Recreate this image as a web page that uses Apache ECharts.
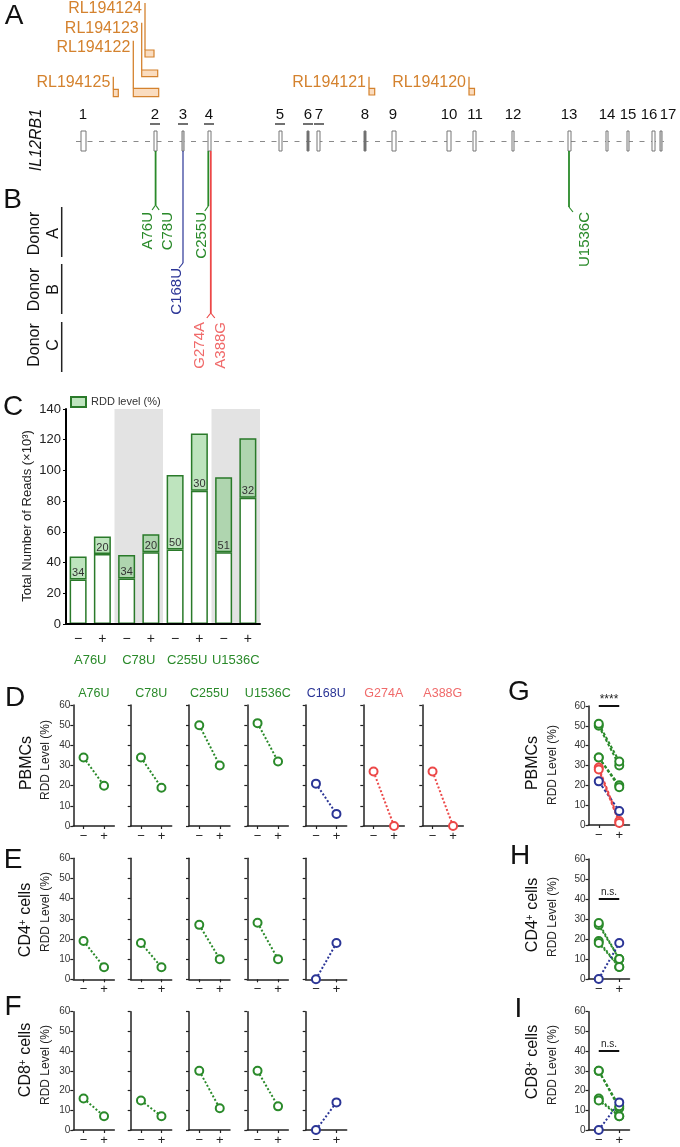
<!DOCTYPE html>
<html><head><meta charset="utf-8">
<script src="https://cdn.jsdelivr.net/npm/echarts@6/dist/echarts.min.js"></script>
<style>html,body{margin:0;padding:0;background:#fff}#c{width:680px;height:1147px}</style>
</head><body><div id="c"></div>
<script>
// ---------------- DATA ----------------
// Panel A: gene model (positions in diagram units along the gene axis)
const exonNames = ['1','2','3','4','5','6','7','8','9','10','11','12','13','14','15','16','17'];
const exonStart = [81,154,182,208,279,307,317,364,392,447,473,512,568,606,627,652,660];
const exonEnd   = [86,157,184,211,282,309,320,366,396,451,476,514,571,608,629,655,662];
const exonShade = [0,0,1,0,0,2,0,2,0,0,0,0,0,0,0,0,1];
const exonLabelX = [83,155,183,209,280,308,319,365,393,449,475,513,569,607,628,649,668];
const exonUnderlined = [0,1,1,1,1,1,1,0,0,0,0,0,0,0,0,0,0];
const intronSpan = [76, 664];

const probeNames = ['RL194124','RL194123','RL194122','RL194125','RL194121','RL194120'];
const probeLineX = [145,141.7,133.3,113.3,369,469];
const probeLineTop = [3,22.7,40.7,76.7,76.7,76.7];
const probeBoxRight = [154,157.7,158.7,118.3,374.7,474.5];
const probeBoxTop = [50,70,88.3,89.3,88.3,88.3];
const probeBoxBottom = [57,76.7,96.7,96.7,95,95];
const probeLabelY = [9,28.8,47.5,83,83,83];

// Panel B: edited sites and labels
const siteX = [155.6,183,208.3,210.8,569];
const siteEndY = [205,263,206,313,207];
const siteColor = ['g','b','g','r','g'];
const siteHooks = [[-3.5,3.5],[-4],[-3.5],[-4,4],[4]];
const mutNames = ['A76U','C78U','C255U','C168U','G274A','A388G','U1536C'];
const mutColor = ['g','g','g','b','r','r','g'];
const mutLabelX = [148,167.5,201.7,176.5,200,220.5,585];
const mutLabelTop = [212,212,212,268,322,322,212];
const donorNames = ['A','B','C'];
const donorTop = [207,264,322];
const donorBottom = [257,314,372];
const donorMid = [233.5,289.5,345];

// Panel C
const cGroups = ['A76U','C78U','C255U','U1536C'];
const cSigns = ['−','+','−','+','−','+','−','+'];
const cTotal = [44,57,45,58.5,97,124,95.5,121];
const cRdd = [34,20,34,20,50,30,51,32];
const cBand = [null,140,null,140];

// Panels D-F (per site)
const dSites = ['A76U','C78U','C255U','U1536C','C168U','G274A','A388G'];
const dColor = ['g','g','g','g','b','r','r'];
const pbmcMinus = [34,34,50,51,21,27,27];
const pbmcPlus  = [20,19,30,32,6,0,0];
const cd4Minus = [19,18,27,28,0];
const cd4Plus  = [6,6,10,10,18];
const cd8Minus = [16,15,30,30,0];
const cd8Plus  = [7,7,11,12,14];
// Panel G (pooled PBMCs)
const gMinus = [50,51,34,34,22,29,28];
const gPlus  = [30,32,20,19,7,2,1];
const gColor = ['g','g','g','g','b','r','r'];
const signs = ['−','+'];

// ---------------- STYLE ----------------
const FONT = '"Liberation Sans", Arial, Helvetica, sans-serif';
const GREEN = '#2a8a2a', GREEN_D = '#2a7a2a', BLUE = '#2b3596', RED = '#ec4848', RED_T = '#f06a6a', ORANGE = '#d4822e';
const col = {g: GREEN, b: BLUE, r: RED};
const tcol = {g: GREEN, b: BLUE, r: RED_T};
const AX = '#222';

const grid = [], xAxis = [], yAxis = [], series = [], graphic = [];

function txt(text, x, y, o) {
  o = o || {};
  const al = o.align || 'center', va = o.valign || 'middle';
  graphic.push({type:'text', x:x, y:y, rotation:o.rot || 0, silent:true, z:50,
    style:{text:text, fill:o.color || '#111', fontSize:o.size || 12, fontFamily:FONT,
      fontStyle:o.italic ? 'italic' : 'normal', align:al, verticalAlign:va,
      textAlign:al, textVerticalAlign:va, rich:o.rich}});
}

// ---------------- GENE DIAGRAM GRID (A, B) ----------------
grid.push({left:0, top:0, width:680, height:400});
xAxis.push({type:'value', gridIndex:0, min:0, max:680, show:false});
yAxis.push({type:'value', gridIndex:0, min:0, max:400, inverse:true, show:false});
const EXON_TOP = 131, EXON_BOTTOM = 151, INTRON_Y = 141.5, EXLAB_Y = 115;

series.push({type:'line', xAxisIndex:0, yAxisIndex:0, silent:true, z:1, symbol:'none',
  data:[[intronSpan[0], INTRON_Y],[intronSpan[1], INTRON_Y]],
  lineStyle:{color:'#8a8a8a', width:1, type:[5,6.5]}});

series.push({type:'custom', xAxisIndex:0, yAxisIndex:0, silent:true, z:3,
  data: exonStart.map(function(s){return [s, EXON_TOP];}),
  renderItem:function(p, api){
    const i = p.dataIndex;
    const a = api.coord([exonStart[i], EXON_TOP]), b = api.coord([exonEnd[i], EXON_BOTTOM]);
    const fills = ['#ffffff','#d8d8d8','#6a6a6a'];
    return {type:'rect', shape:{x:a[0], y:a[1], width:b[0]-a[0], height:b[1]-a[1]},
      style:{fill:fills[exonShade[i]], stroke:'#777', lineWidth:1}};
  }});

series.push({type:'custom', xAxisIndex:0, yAxisIndex:0, silent:true, z:3,
  data: exonLabelX.map(function(x){return [x, EXLAB_Y];}),
  renderItem:function(p, api){
    const i = p.dataIndex;
    const c = api.coord([exonLabelX[i], EXLAB_Y]);
    const ch = [{type:'text', x:c[0], y:c[1], style:{text:exonNames[i], fill:'#111', fontSize:15, fontFamily:FONT,
      align:'center', verticalAlign:'middle', textAlign:'center', textVerticalAlign:'middle'}}];
    if (exonUnderlined[i]) ch.push({type:'line', shape:{x1:c[0]-5, y1:c[1]+9, x2:c[0]+5, y2:c[1]+9}, style:{stroke:'#111', lineWidth:1.2}});
    return {type:'group', children:ch};
  }});

series.push({type:'custom', xAxisIndex:0, yAxisIndex:0, silent:true, z:3,
  data: probeLineX.map(function(x, i){return [x, probeLineTop[i]];}),
  renderItem:function(p, api){
    const i = p.dataIndex;
    const lt = api.coord([probeLineX[i], probeLineTop[i]]);
    const bt = api.coord([probeLineX[i], probeBoxTop[i]]);
    const br = api.coord([probeBoxRight[i], probeBoxBottom[i]]);
    const lab = api.coord([probeLineX[i], probeLabelY[i]]);
    return {type:'group', children:[
      {type:'line', shape:{x1:lt[0], y1:lt[1], x2:bt[0], y2:bt[1]}, style:{stroke:ORANGE, lineWidth:1.3}},
      {type:'rect', shape:{x:bt[0], y:bt[1], width:br[0]-bt[0], height:br[1]-bt[1]}, style:{fill:'#fadcbf', stroke:ORANGE, lineWidth:1.2}},
      {type:'text', x:lab[0]-3, y:lab[1], style:{text:probeNames[i], fill:ORANGE, fontSize:16, fontFamily:FONT,
        align:'right', verticalAlign:'middle', textAlign:'right', textVerticalAlign:'middle'}}
    ]};
  }});

// edited-site connectors
series.push({type:'custom', xAxisIndex:0, yAxisIndex:0, silent:true, z:4,
  data: siteX.map(function(x, i){return [x, siteEndY[i]];}),
  renderItem:function(p, api){
    const i = p.dataIndex;
    const top = api.coord([siteX[i], EXON_BOTTOM]), end = api.coord([siteX[i], siteEndY[i]]);
    const c = col[siteColor[i]];
    const w = siteColor[i] === 'b' ? 1.2 : 1.8;
    const ch = [{type:'line', shape:{x1:top[0], y1:top[1], x2:end[0], y2:end[1]}, style:{stroke:c, lineWidth:w}}];
    siteHooks[i].forEach(function(dx){
      const h = api.coord([siteX[i]+dx, siteEndY[i]+5]);
      ch.push({type:'line', shape:{x1:end[0], y1:end[1], x2:h[0], y2:h[1]}, style:{stroke:c, lineWidth:1.2}});
    });
    return {type:'group', children:ch};
  }});

// mutation labels
series.push({type:'custom', xAxisIndex:0, yAxisIndex:0, silent:true, z:4,
  data: mutLabelX.map(function(x, i){return [x, mutLabelTop[i]];}),
  renderItem:function(p, api){
    const i = p.dataIndex;
    const c = api.coord([mutLabelX[i], mutLabelTop[i]]);
    return {type:'text', x:c[0], y:c[1], rotation:Math.PI/2,
      style:{text:mutNames[i], fill:tcol[mutColor[i]], fontSize:15, fontFamily:FONT,
        align:'right', verticalAlign:'middle', textAlign:'right', textVerticalAlign:'middle'}};
  }});

// donor labels
series.push({type:'custom', xAxisIndex:0, yAxisIndex:0, silent:true, z:4,
  data: donorMid.map(function(y){return [40, y];}),
  renderItem:function(p, api){
    const i = p.dataIndex;
    const a = api.coord([61.7, donorTop[i]]), b = api.coord([61.7, donorBottom[i]]);
    const m = api.coord([44.5, donorMid[i]]);
    return {type:'group', children:[
      {type:'line', shape:{x1:a[0], y1:a[1], x2:b[0], y2:b[1]}, style:{stroke:'#222', lineWidth:1.5}},
      {type:'text', x:m[0], y:m[1], rotation:Math.PI/2, style:{text:'Donor\n' + donorNames[i], fill:'#111', fontSize:16,
        lineHeight:19, fontFamily:FONT, align:'center', verticalAlign:'middle', textAlign:'center', textVerticalAlign:'middle'}}
    ]};
  }});

txt('IL12RB1', 37, 140, {size:16, italic:true, rot:Math.PI/2});

// ---------------- PANEL C ----------------
const cCats = cSigns.map(function(s, i){return cGroups[Math.floor(i/2)] + '|' + s;});
grid.push({left:66, top:409, width:194, height:215});
const gC = grid.length - 1;
xAxis.push({type:'category', gridIndex:gC, data:cCats, z:10,
  axisLine:{lineStyle:{color:'#000', width:2}}, axisTick:{show:false},
  axisLabel:{interval:0, formatter:function(v){return v.split('|')[1];}, fontSize:14, color:AX, margin:8, fontFamily:FONT}});
const xC = xAxis.length - 1;
xAxis.push({type:'category', gridIndex:gC, data:cGroups, position:'bottom', z:10,
  axisLine:{show:false}, axisTick:{show:false},
  axisLabel:{interval:0, hideOverlap:false, fontSize:13, color:GREEN, margin:30, fontFamily:FONT}});
const xCg = xAxis.length - 1;
yAxis.push({type:'value', gridIndex:gC, min:0, max:140, interval:20, z:10,
  axisLine:{show:true, lineStyle:{color:'#000', width:2}}, axisTick:{show:true, length:3, lineStyle:{color:'#000'}},
  splitLine:{show:false}, axisLabel:{fontSize:13, color:AX, margin:5, fontFamily:FONT}});
const yC = yAxis.length - 1;
series.push({type:'bar', name:'band', xAxisIndex:xCg, yAxisIndex:yC, data:cBand, barWidth:'100%', silent:true, z:1,
  itemStyle:{color:'#e3e3e3'}});
series.push({type:'bar', name:'base', xAxisIndex:xC, yAxisIndex:yC, stack:'reads', barWidth:17, silent:true, z:3,
  data: cTotal.map(function(t, i){return +(t * (1 - cRdd[i]/100)).toFixed(2);}),
  itemStyle:{color:'#ffffff', borderColor:GREEN_D, borderWidth:1.5}});
series.push({type:'bar', name:'RDD level (%)', xAxisIndex:xC, yAxisIndex:yC, stack:'reads', barWidth:17, silent:true, z:3,
  data: cTotal.map(function(t, i){return +(t * cRdd[i]/100).toFixed(2);}),
  itemStyle:{color:'rgba(110,195,110,0.45)', borderColor:GREEN_D, borderWidth:1.5},
  label:{show:true, position:'insideBottom', distance:1, fontSize:11, color:'#333', fontFamily:FONT,
    formatter:function(p){return cRdd[p.dataIndex];}}});
txt('Total Number of Reads (×10³)', 27, 516, {size:13, rot:Math.PI/2, color:'#222'});

// ---------------- SMALL MULTIPLES ----------------
function smallPlot(left, top, height, showY, lines, mark) {
  grid.push({left:left, top:top, width:41, height:height});
  const gi = grid.length - 1;
  xAxis.push({type:'category', gridIndex:gi, data:signs, boundaryGap:true,
    axisLine:{lineStyle:{color:AX, width:1.5}},
    axisTick:{show:true, alignWithLabel:true, length:3, lineStyle:{color:AX, width:1.2}},
    axisLabel:{interval:0, fontSize:13, color:AX, margin:4, fontFamily:FONT}});
  yAxis.push({type:'value', gridIndex:gi, min:0, max:60, interval:10,
    axisLine:{show:true, lineStyle:{color:AX, width:1.5}},
    axisTick:{show:true, length:3, lineStyle:{color:AX, width:1.2}},
    splitLine:{show:false},
    axisLabel:{show:showY, fontSize:10, color:'#333', margin:3, fontFamily:FONT}});
  const xi = xAxis.length - 1, yi = yAxis.length - 1;
  lines.forEach(function(l, k){
    const s = {type:'line', xAxisIndex:xi, yAxisIndex:yi, silent:true, data:[l.minus, l.plus],
      symbol:'emptyCircle', symbolSize:8, z:5,
      lineStyle:{color:col[l.c], width:2, type:l.dash || 'dotted'},
      itemStyle:{color:col[l.c], borderColor:col[l.c], borderWidth:1.5}};
    if (k === 0 && mark) {
      s.markLine = {silent:true, symbol:'none', animation:false,
        lineStyle:{color:'#111', width:2, type:'solid'},
        label:{show:true, position:'insideMiddleTop', distance:mark.dist, formatter:mark.text, fontSize:mark.size, color:'#222', fontFamily:FONT},
        data:[[{coord:['−', mark.y]}, {coord:['+', mark.y]}]]};
    }
    series.push(s);
  });
}

const colLeft = [73.3,130.7,189,247.3,305.7,363.3,422.3];
const rowTop = [705, 858.3, 1011.7];
const rowH = [121, 121, 120];
const rowData = [[pbmcMinus, pbmcPlus], [cd4Minus, cd4Plus], [cd8Minus, cd8Plus]];
rowData.forEach(function(rd, r){
  rd[0].forEach(function(v, i){
    smallPlot(colLeft[i], rowTop[r], rowH[r], i === 0, [{minus:v, plus:rd[1][i], c:dColor[i]}]);
  });
});
dSites.forEach(function(s, i){ txt(s, colLeft[i] + 20.5, 693.5, {size:12.5, color:tcol[dColor[i]]}); });

// pooled panels G, H, I
const poolLeft = 588.5;
smallPlot(poolLeft, 706, 119, true, gMinus.map(function(v, i){return {minus:v, plus:gPlus[i], c:gColor[i], dash:[3,2]};}),
  {y:60, text:'****', size:12, dist:0});
smallPlot(poolLeft, 859, 120, true, cd4Minus.map(function(v, i){return {minus:v, plus:cd4Plus[i], c:dColor[i]};}),
  {y:40, text:'n.s.', size:10, dist:2});
smallPlot(poolLeft, 1011.7, 120, true, cd8Minus.map(function(v, i){return {minus:v, plus:cd8Plus[i], c:dColor[i], dash:i===2||i===3?[3,2]:'dotted'};}),
  {y:40, text:'n.s.', size:10, dist:2});

// ---------------- TEXT LABELS ----------------
const L = 28;
txt('A', 14, 16, {size:L}); txt('B', 12.5, 200, {size:L}); txt('C', 13, 407, {size:L});
txt('D', 15, 698.5, {size:L}); txt('E', 13, 860, {size:L}); txt('F', 13, 1007, {size:L});
txt('G', 519, 692, {size:L}); txt('H', 520, 856, {size:L}); txt('I', 518.5, 1009, {size:L});

const sup = function(a, b){
  return {text:'{a|' + a + '}{s|+}{a|' + b + '}', rich:{a:{fontSize:16, fontFamily:FONT, fill:'#111', color:'#111'},
    s:{fontSize:10, fontFamily:FONT, verticalAlign:'top', fill:'#111', color:'#111'}}};
};
function rowLabel(x, y, a, b) {
  if (b === undefined) { txt(a, x, y, {size:16, rot:Math.PI/2}); return; }
  const s = sup(a, b);
  graphic.push({type:'text', x:x, y:y, rotation:Math.PI/2, silent:true, z:50,
    style:{text:s.text, rich:s.rich, fontSize:16, fontFamily:FONT, fill:'#111', align:'center', verticalAlign:'middle', textAlign:'center', textVerticalAlign:'middle'}});
}
rowLabel(27, 763, 'PBMCs'); rowLabel(26, 920, 'CD4', ' cells'); rowLabel(26, 1060, 'CD8', ' cells');
rowLabel(533, 763, 'PBMCs'); rowLabel(533, 915, 'CD4', ' cells'); rowLabel(533, 1062, 'CD8', ' cells');
[[46, 760], [46, 912], [46, 1065], [553, 765], [553, 917], [553, 1065]].forEach(function(p){
  txt('RDD Level (%)', p[0], p[1], {size:12, rot:Math.PI/2, color:'#222'});
});

// ---------------- CHART ----------------
const chart = echarts.init(document.getElementById('c'), null, {renderer:'canvas', width:680, height:1147});
chart.setOption({
  animation:false,
  backgroundColor:'#ffffff',
  textStyle:{fontFamily:FONT},
  legend:{data:['RDD level (%)'], left:70, top:396, itemWidth:15, itemHeight:10, itemGap:4, padding:0,
    icon:'rect', textStyle:{fontSize:11, color:'#333', fontFamily:FONT}, selectedMode:false},
  grid:grid, xAxis:xAxis, yAxis:yAxis, series:series, graphic:{elements:graphic}
});
</script></body></html>
